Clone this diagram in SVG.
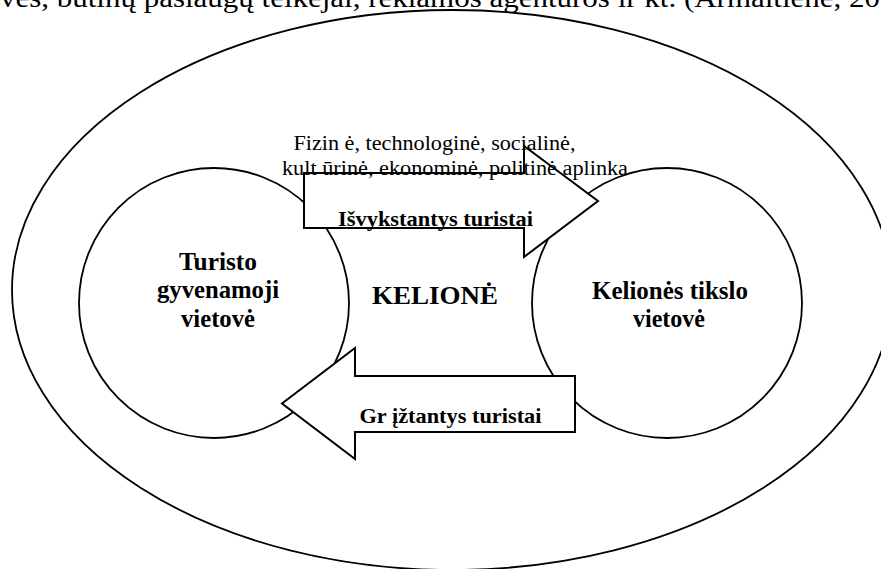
<svg xmlns="http://www.w3.org/2000/svg" width="881" height="569" viewBox="0 0 881 569">
<style>
.ln{fill:none;stroke:#000;stroke-width:1.8}
.blk{fill:#fff;stroke:#000;stroke-width:2}
.r{font-family:"Liberation Serif","Times New Roman",serif;fill:#000}
.b{font-family:"Liberation Serif","Times New Roman",serif;font-weight:bold;fill:#000}
</style>
<rect width="881" height="569" fill="#fff"/>
<text class="r" x="0" y="7" font-size="28" textLength="880" lengthAdjust="spacingAndGlyphs">vės, būtinų paslaugų teikėjai, reklamos agentūros ir kt. (Armaitienė, 20</text>
<g id="environment">
<ellipse class="ln" cx="452" cy="290" rx="440" ry="280"/>
</g>
<g id="home">
<circle class="ln" cx="214" cy="303" r="135"/>
<text class="b" font-size="25" x="179" y="270" textLength="78" lengthAdjust="spacingAndGlyphs">Turisto</text>
<text class="b" font-size="25" x="157" y="298" textLength="122" lengthAdjust="spacingAndGlyphs">gyvenamoji</text>
<text class="b" font-size="25" x="181" y="326.5" textLength="74" lengthAdjust="spacingAndGlyphs">vietovė</text>
</g>
<g id="destination">
<circle class="ln" cx="667" cy="303" r="135"/>
<text class="b" font-size="25" x="592" y="299" textLength="156" lengthAdjust="spacingAndGlyphs">Kelionės tikslo</text>
<text class="b" font-size="25" x="633" y="326.5" textLength="72" lengthAdjust="spacingAndGlyphs">vietovė</text>
</g>
<g id="connectors">
<g id="outbound">
<polygon class="blk" points="304,173 524,173 524,146 598,201 524,257 524,228 304,228"/>
<text class="b" font-size="21" x="338" y="226" textLength="195" lengthAdjust="spacingAndGlyphs">Išvykstantys turistai</text>
</g>
<g id="return">
<polygon class="blk" points="575,376 355,376 355,348 282,403.5 355,459 355,432 575,432"/>
<text class="b" font-size="21" x="359.5" y="423" textLength="182" lengthAdjust="spacingAndGlyphs">Gr įžtantys turistai</text>
</g>
</g>
<g id="journey">
<text class="b" font-size="25" x="372" y="303.5" textLength="126" lengthAdjust="spacingAndGlyphs">KELIONĖ</text>
</g>
<g id="environment-label">
<text class="r" font-size="20" x="293.5" y="149.5" textLength="282" lengthAdjust="spacingAndGlyphs">Fizin ė, technologinė, socialinė,</text>
<text class="r" font-size="20" x="282" y="175" textLength="346" lengthAdjust="spacingAndGlyphs">kult ūrinė, ekonominė, politinė aplinka</text>
</g>
</svg>
